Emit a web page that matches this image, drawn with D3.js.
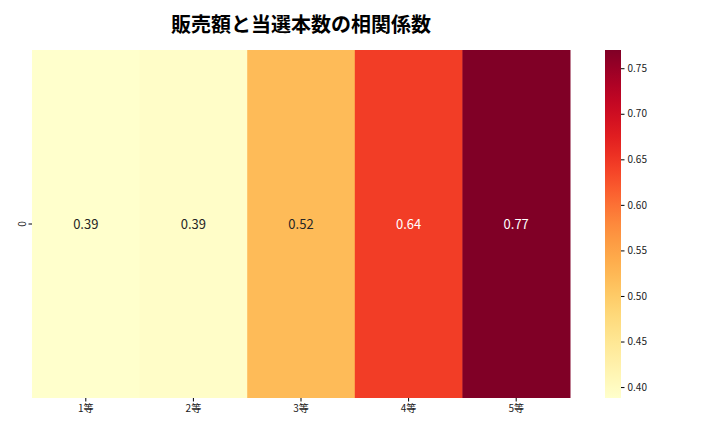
<!DOCTYPE html>
<html><head><meta charset="utf-8">
<script src="https://cdn.jsdelivr.net/npm/d3@7"></script>
<style>body{margin:0;background:#fff}</style></head>
<body><svg id="c" width="720" height="432"></svg>
<script>
const categories = ["1等","2等","3等","4等","5等"];
const values = [0.388, 0.392, 0.52, 0.643, 0.77];
const labels = ["0.39","0.39","0.52","0.64","0.77"];
const cbTicks = [0.40,0.45,0.50,0.55,0.60,0.65,0.70,0.75];
const rowLabels = ["0"];
const title = "販売額と当選本数の相関係数";

const svg = d3.select("#c");
const font = "'Noto Sans CJK JP', 'Noto Sans', sans-serif";
const L=32,R=570,T=50,B=398;
const vmin=0.388, vmax=0.770;
const color = v => d3.interpolateYlOrRd((v-vmin)/(vmax-vmin));
const x = d3.scaleBand().domain(categories).range([L,R]);
const y = d3.scaleBand().domain(rowLabels).range([T,B]);

svg.append("text").attr("x",301).attr("y",32).attr("text-anchor","middle")
 .attr("font-family",font).attr("font-size",20).attr("font-weight","bold").text(title);

svg.selectAll("rect.cell").data(values).join("rect")
 .attr("x",(d,i)=>x(categories[i])).attr("y",y("0"))
 .attr("width",x.bandwidth()+0.5).attr("height",y.bandwidth())
 .attr("fill",d=>color(d));
svg.selectAll("text.val").data(values).join("text")
 .attr("x",(d,i)=>x(categories[i])+x.bandwidth()/2).attr("y",y("0")+y.bandwidth()/2)
 .attr("dy","0.35em").attr("text-anchor","middle").attr("font-family",font).attr("font-size",13)
 .attr("fill",d=>(d-vmin)/(vmax-vmin)>0.6?"#fff":"#262626").text((d,i)=>labels[i]);

const xa = svg.append("g").attr("transform",`translate(0,${B})`).call(d3.axisBottom(x).tickSize(3.5));
const ya = svg.append("g").attr("transform",`translate(${L},0)`).call(d3.axisLeft(y).tickSize(3.5));
[xa,ya].forEach(a=>{a.select(".domain").remove();a.selectAll("text").attr("font-family",font).attr("font-size",10).attr("fill","#222");});
ya.selectAll(".tick text").attr("transform",function(){const t=d3.select(this);return `rotate(-90,${t.attr("x")},0)`;}).attr("text-anchor","middle").attr("dy","0.35em").attr("x",-10).attr("transform","rotate(-90 -10 0)");

// colorbar
const cbL=605,cbW=16;
const cy = d3.scaleLinear().domain([vmin,vmax]).range([B,T]);
const defs=svg.append("defs");
const g=defs.append("linearGradient").attr("id","gr").attr("x1",0).attr("y1",1).attr("x2",0).attr("y2",0);
d3.range(0,1.001,0.05).forEach(t=>g.append("stop").attr("offset",t).attr("stop-color",d3.interpolateYlOrRd(t)));
svg.append("rect").attr("x",cbL).attr("y",T).attr("width",cbW).attr("height",B-T).attr("fill","url(#gr)");
const ca=svg.append("g").attr("transform",`translate(${cbL+cbW},0)`).call(d3.axisRight(cy).tickValues(cbTicks).tickFormat(d3.format(".2f")).tickSize(3.5));
ca.select(".domain").remove();
ca.selectAll("text").attr("font-family",font).attr("font-size",10).attr("fill","#222");
</script></body></html>
